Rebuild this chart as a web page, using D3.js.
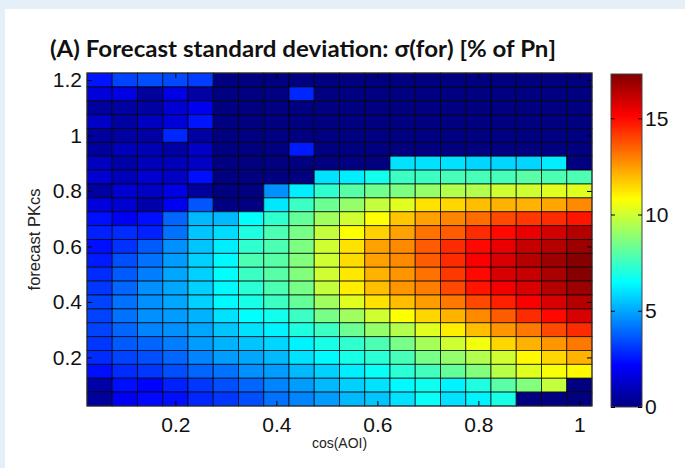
<!DOCTYPE html>
<html>
<head>
<meta charset="utf-8">
<script src="https://cdn.jsdelivr.net/npm/d3@7"></script>
<style>
  html, body { margin: 0; padding: 0; background: #e4eff7; }
  svg { display: block; }
  .tick text { font-family: "Liberation Sans", Arial, sans-serif; fill: #111; }
</style>
</head>
<body>
<svg id="chart" width="685" height="468"></svg>
<script>
// cell centres (cos of angle of incidence, forecast PKcs), top row first
var cosAOI = [0.05, 0.10, 0.15, 0.20, 0.25, 0.30, 0.35, 0.40, 0.45, 0.50,
              0.55, 0.60, 0.65, 0.70, 0.75, 0.80, 0.85, 0.90, 0.95, 1.00];
var pkcs = [1.20, 1.15, 1.10, 1.05, 1.00, 0.95, 0.90, 0.85, 0.80, 0.75, 0.70, 0.65,
            0.60, 0.55, 0.50, 0.45, 0.40, 0.35, 0.30, 0.25, 0.20, 0.15, 0.10, 0.05];

var xTicks = [0.2, 0.4, 0.6, 0.8, 1];
var xTickLabels = ["0.2", "0.4", "0.6", "0.8", "1"];
var yTicks = [0.2, 0.4, 0.6, 0.8, 1, 1.2];
var yTickLabels = ["0.2", "0.4", "0.6", "0.8", "1", "1.2"];
var cbTicks = [0, 5, 10, 15];
var cbMax = 17.3;

// sigma(for) in % of Pn, one array per PKcs row (top to bottom)
var sigma = [
  [2.5, 3.3, 3.5, 3.4, 3.2, 0, 0, 0, 0, 0, 0, 0, 0, 0, 0, 0, 0, 0, 0, 0],
  [1.5, 1.7, 0.5, 1.7, 0.6, 0, 0, 0, 2.8, 0, 0, 0, 0, 0, 0, 0, 0, 0, 0, 0],
  [0.5, 0.6, 0.6, 1.4, 1.9, 0, 0, 0, 0, 0, 0, 0, 0, 0, 0, 0, 0, 0, 0, 0],
  [1.2, 0.6, 1.1, 1.5, 2.5, 0, 0, 0, 0, 0, 0, 0, 0, 0, 0, 0, 0, 0, 0, 0],
  [0.5, 0.6, 0.6, 2.8, 0.6, 0, 0, 0, 0, 0, 0, 0, 0, 0, 0, 0, 0, 0, 0, 0],
  [0.5, 1.0, 0.9, 0.6, 1.2, 0, 0, 0, 2.6, 0, 0, 0, 0, 0, 0, 0, 0, 0, 0, 0],
  [1.1, 0.7, 1.0, 1.0, 1.2, 0, 0, 0, 0, 0, 0, 0, 6.0, 6.0, 6.0, 5.8, 5.8, 5.8, 6.2, 0],
  [1.4, 1.0, 1.4, 1.2, 2.4, 0, 0, 0, 0, 6.0, 6.2, 6.8, 7.5, 7.5, 7.7, 7.7, 7.7, 8.0, 7.8, 7.8],
  [0.6, 1.4, 1.2, 1.7, 0.5, 0, 0, 4.6, 6.2, 7.3, 8.0, 8.4, 8.6, 9.0, 9.5, 9.5, 10.0, 10.0, 10.3, 10.3],
  [1.6, 1.4, 0.7, 1.9, 3.6, 0, 0, 6.1, 7.5, 8.3, 9.0, 9.8, 10.3, 11.3, 11.5, 11.9, 12.1, 12.1, 12.3, 12.8],
  [2.4, 2.0, 2.4, 3.9, 5.3, 5.3, 6.5, 7.3, 8.2, 9.2, 10.0, 10.8, 11.8, 12.4, 12.9, 13.3, 13.9, 14.2, 14.4, 14.8],
  [2.7, 2.9, 2.7, 4.1, 5.5, 5.9, 7.0, 7.8, 8.5, 9.8, 10.8, 11.6, 12.4, 13.2, 13.6, 14.4, 15.0, 15.5, 15.9, 16.4],
  [2.4, 3.0, 3.7, 4.6, 5.5, 6.2, 7.3, 7.8, 8.6, 10.0, 11.3, 12.4, 12.8, 13.6, 14.4, 15.0, 15.5, 16.1, 16.4, 16.8],
  [2.6, 3.5, 4.1, 4.8, 5.7, 6.4, 7.8, 8.0, 8.7, 10.0, 11.4, 12.4, 12.8, 13.6, 14.4, 15.2, 15.8, 16.4, 16.8, 17.2],
  [2.9, 3.7, 4.3, 5.0, 5.7, 6.5, 7.5, 8.0, 8.7, 10.0, 11.2, 12.1, 12.6, 13.2, 14.2, 15.0, 15.8, 16.1, 16.6, 17.2],
  [3.1, 3.9, 4.6, 5.0, 5.7, 6.4, 7.2, 7.8, 8.5, 9.8, 11.1, 11.9, 12.6, 13.0, 13.9, 14.8, 15.3, 15.8, 16.4, 16.8],
  [3.3, 4.1, 4.6, 5.0, 5.7, 6.4, 6.9, 7.5, 8.2, 9.2, 10.3, 11.3, 11.9, 12.5, 13.1, 13.9, 14.6, 15.2, 15.8, 16.4],
  [3.3, 4.1, 4.6, 4.8, 5.2, 6.0, 6.5, 6.8, 7.5, 8.5, 9.2, 10.0, 10.8, 11.5, 12.1, 12.8, 13.6, 14.4, 15.0, 15.8],
  [3.3, 3.9, 4.4, 4.6, 5.0, 5.5, 6.0, 6.3, 7.0, 7.5, 8.3, 9.0, 9.5, 10.3, 11.1, 11.9, 12.6, 13.1, 13.9, 14.4],
  [3.1, 3.7, 3.9, 4.3, 4.8, 5.2, 5.5, 5.8, 6.3, 6.9, 7.3, 7.8, 8.5, 9.3, 10.0, 10.6, 11.5, 12.1, 12.6, 13.1],
  [2.9, 3.3, 3.5, 3.9, 4.4, 4.8, 5.0, 5.3, 6.0, 6.4, 6.9, 7.2, 7.7, 8.5, 9.0, 9.5, 10.0, 10.9, 11.5, 12.1],
  [2.4, 2.9, 3.1, 3.5, 3.9, 4.1, 4.6, 4.8, 5.3, 5.7, 6.2, 6.6, 7.2, 7.6, 8.2, 8.7, 9.6, 10.3, 10.7, 10.9],
  [0.7, 2.4, 2.2, 2.7, 3.1, 3.5, 3.9, 4.4, 4.8, 5.3, 5.7, 6.0, 6.4, 6.7, 6.3, 7.0, 8.0, 8.7, 9.8, 0],
  [0.5, 2.0, 2.3, 2.4, 2.8, 3.1, 3.5, 4.1, 4.4, 4.8, 5.3, 5.5, 6.0, 6.6, 6.0, 6.3, 6.9, 0, 0, 0]
];

var svg = d3.select("#chart");

// white panel over the light blue page
svg.append("rect")
  .attr("x", 5).attr("y", 9)
  .attr("width", 680).attr("height", 459)
  .attr("fill", "white");

// plot area
var plotL = 87, plotR = 592, plotT = 73, plotB = 406;
var dx = cosAOI[1] - cosAOI[0];
var dy = pkcs[0] - pkcs[1];

var x = d3.scaleLinear()
  .domain([d3.min(cosAOI) - dx / 2, d3.max(cosAOI) + dx / 2])
  .range([plotL, plotR]);
var y = d3.scaleLinear()
  .domain([d3.min(pkcs) - dy / 2, d3.max(pkcs) + dy / 2])
  .range([plotB, plotT]);

// jet colormap
var jet = d3.scaleLinear()
  .domain([0, 1/8, 3/8, 5/8, 7/8, 1].map(function(t) { return t * cbMax; }))
  .range(["#000080", "#0000ff", "#00ffff", "#ffff00", "#ff0000", "#800000"])
  .clamp(true);

var cells = [];
sigma.forEach(function(row, i) {
  row.forEach(function(v, j) {
    cells.push({x: cosAOI[j], y: pkcs[i], v: v});
  });
});

svg.append("g")
  .selectAll("rect")
  .data(cells)
  .enter()
  .append("rect")
    .attr("x", function(d) { return x(d.x - dx / 2); })
    .attr("y", function(d) { return y(d.y + dy / 2); })
    .attr("width", function(d) { return x(d.x + dx / 2) - x(d.x - dx / 2); })
    .attr("height", function(d) { return y(d.y - dy / 2) - y(d.y + dy / 2); })
    .attr("fill", function(d) { return jet(d.v); })
    .attr("stroke", "rgba(0,0,0,0.7)")
    .attr("stroke-width", 1);

// axes, matlab style ticks pointing inwards
var fmtX = function(d, i) { return xTickLabels[i]; };
var fmtY = function(d, i) { return yTickLabels[i]; };

svg.append("g")
  .attr("transform", "translate(0," + plotB + ")")
  .call(d3.axisBottom(x).tickValues(xTicks).tickFormat(fmtX)
    .tickSizeInner(-5).tickSizeOuter(0).tickPadding(11))
  .call(function(g) { g.select(".domain").remove(); })
  .selectAll("text").attr("font-size", 21);

svg.append("g")
  .attr("transform", "translate(0," + plotT + ")")
  .call(d3.axisTop(x).tickValues(xTicks).tickFormat("")
    .tickSizeInner(-5).tickSizeOuter(0))
  .call(function(g) { g.select(".domain").remove(); });

svg.append("g")
  .attr("transform", "translate(" + plotL + ",0)")
  .call(d3.axisLeft(y).tickValues(yTicks).tickFormat(fmtY)
    .tickSizeInner(-5).tickSizeOuter(0).tickPadding(5))
  .call(function(g) { g.select(".domain").remove(); })
  .selectAll("text").attr("font-size", 21);

svg.append("g")
  .attr("transform", "translate(" + plotR + ",0)")
  .call(d3.axisRight(y).tickValues(yTicks).tickFormat("")
    .tickSizeInner(-5).tickSizeOuter(0))
  .call(function(g) { g.select(".domain").remove(); });

svg.append("rect")
  .attr("x", plotL).attr("y", plotT)
  .attr("width", plotR - plotL).attr("height", plotB - plotT)
  .attr("fill", "none")
  .attr("stroke", "#333")
  .attr("stroke-width", 1);

// axis titles
svg.append("text")
  .attr("x", (plotL + plotR) / 2)
  .attr("y", 448)
  .attr("text-anchor", "middle")
  .attr("font-family", "Liberation Sans, Arial, sans-serif")
  .attr("font-size", 14)
  .attr("fill", "#222")
  .text("cos(AOI)");

svg.append("text")
  .attr("transform", "translate(40," + (plotT + plotB) / 2 + ") rotate(-90)")
  .attr("text-anchor", "middle")
  .attr("font-family", "Liberation Sans, Arial, sans-serif")
  .attr("font-size", 16.5)
  .attr("fill", "#222")
  .text("forecast PKcs");

// title
svg.append("text")
  .attr("x", 50)
  .attr("y", 57)
  .attr("font-family", "Lato, 'Open Sans', sans-serif")
  .attr("font-weight", 700)
  .attr("font-size", 23)
  .attr("fill", "#111")
  .attr("textLength", 506)
  .attr("lengthAdjust", "spacingAndGlyphs")
  .text("(A) Forecast standard deviation: \u03c3(for) [% of Pn]");

// colorbar
var cbL = 611, cbR = 642, cbT = 74, cbB = 407;
var cy = d3.scaleLinear().domain([0, cbMax]).range([cbB, cbT]);

var grad = svg.append("defs").append("linearGradient")
  .attr("id", "jetGrad")
  .attr("x1", 0).attr("y1", 1).attr("x2", 0).attr("y2", 0);
grad.selectAll("stop")
  .data(jet.domain())
  .enter()
  .append("stop")
    .attr("offset", function(d) { return d / cbMax; })
    .attr("stop-color", function(d) { return jet(d); });

svg.append("rect")
  .attr("x", cbL).attr("y", cbT)
  .attr("width", cbR - cbL).attr("height", cbB - cbT)
  .attr("fill", "url(#jetGrad)")
  .attr("stroke", "#444")
  .attr("stroke-width", 1);

svg.append("g")
  .attr("transform", "translate(" + cbR + ",0)")
  .call(d3.axisRight(cy).tickValues(cbTicks)
    .tickSizeInner(-4).tickSizeOuter(0).tickPadding(3))
  .call(function(g) { g.select(".domain").remove(); })
  .selectAll("text").attr("font-size", 21);

svg.append("g")
  .attr("transform", "translate(" + cbL + ",0)")
  .call(d3.axisLeft(cy).tickValues(cbTicks).tickFormat("")
    .tickSizeInner(-4).tickSizeOuter(0))
  .call(function(g) { g.select(".domain").remove(); })
  ;
</script>
</body>
</html>
